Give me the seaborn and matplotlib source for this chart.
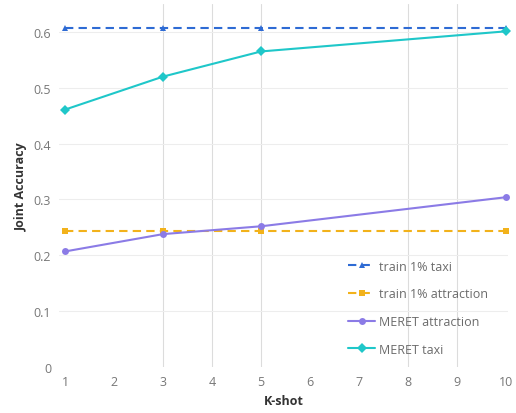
import pandas as pd
import seaborn as sns
import matplotlib.pyplot as plt

# data
k_shot = [1, 3, 5, 10]
train_taxi = [0.607, 0.607, 0.607, 0.607]
train_attraction = [0.244, 0.244, 0.244, 0.244]
meret_attraction = [0.207, 0.238, 0.252, 0.304]
meret_taxi = [0.461, 0.520, 0.565, 0.601]

series_names = ["train 1% taxi", "train 1% attraction", "MERET attraction", "MERET taxi"]
series_values = [train_taxi, train_attraction, meret_attraction, meret_taxi]
colors = ["#2E6BD4", "#F2B21B", "#8B7BE6", "#1FC7C9"]
markers = ["^", "s", "o", "D"]
dashes = [(4, 2.5), (4, 2.5), "", ""]

sns.set_theme(style="white")
plt.rcParams['font.family'] = ['Open Sans', 'DejaVu Sans']

fig, ax = plt.subplots(figsize=(5.16, 4.14), dpi=100)

for name, vals, c, m, d in zip(series_names, series_values, colors, markers, dashes):
    df = pd.DataFrame({"K-shot": k_shot, "acc": vals})
    sns.lineplot(data=df, x="K-shot", y="acc", ax=ax, color=c, marker=m,
                 markersize=5, markeredgewidth=0, linewidth=1.5,
                 label=name, clip_on=False)
    if d:
        ax.lines[-1].set_dashes(d)

# gridlines like the original (only some vertical ones show)
for x in [3, 4, 5, 8, 9]:
    ax.axvline(x, color="#dcdcdc", linewidth=0.8, zorder=0)
for y in [0.1, 0.2, 0.3, 0.4, 0.5, 0.6]:
    ax.axhline(y, color="#ededed", linewidth=0.8, zorder=0)

ax.set_xlim(0.88, 10.05)
ax.set_ylim(0, 0.65)
ax.set_xticks(range(1, 11))
ax.set_yticks([0, 0.1, 0.2, 0.3, 0.4, 0.5, 0.6])
ax.set_yticklabels(["0", "0.1", "0.2", "0.3", "0.4", "0.5", "0.6"])
ax.tick_params(axis="both", labelsize=9, colors="#777777", length=0, pad=6)
for s in ax.spines.values():
    s.set_visible(False)

ax.set_xlabel("K-shot", fontsize=9, fontweight="bold", color="#333333")
ax.set_ylabel("Joint Accuracy", fontsize=9, fontweight="bold", color="#333333")

leg = ax.legend(loc="lower right", bbox_to_anchor=(0.98, 0.0), frameon=False,
                fontsize=9, handlelength=2.2, labelspacing=1.18, handletextpad=0.3)
for t in leg.get_texts():
    t.set_color("#6b6b6b")

plt.subplots_adjust(left=0.115, right=0.985, top=0.988, bottom=0.111)
plt.savefig("out.png", dpi=100)
